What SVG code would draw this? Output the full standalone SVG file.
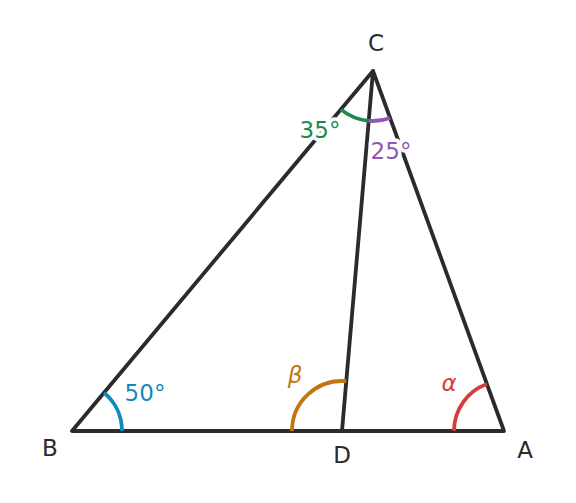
<svg xmlns="http://www.w3.org/2000/svg" width="576" height="503" viewBox="0 0 576 503">
<style>
.edge{stroke:#2b2b2b;stroke-width:3.8;fill:none;stroke-linecap:round;stroke-linejoin:round}
.arc{fill:none;stroke-width:3.8}
text{font-family:"DejaVu Sans","Liberation Sans",sans-serif;font-size:23px;text-anchor:middle}
.lbl{fill:#2b2b2b}
.halo{stroke:#ffffff;stroke-width:7;paint-order:stroke;stroke-linejoin:round}
</style>
<rect width="576" height="503" fill="#ffffff"/>
<g id="connectors">
<path class="edge" d="M72,431 L504,431 L373,71 Z"/>
<path class="edge" d="M342,431 L373,71"/>
</g>
<g id="angles">
<path class="arc" stroke="#1289bd" d="M122,431 A50,50 0 0 0 104.1,392.7"/>
<path class="arc" stroke="#c27510" d="M292,431 A50,50 0 0 1 346.3,381.2"/>
<path class="arc" stroke="#d63c3c" d="M454,431 A50,50 0 0 1 486.9,384"/>
<path class="arc" stroke="#1c8c4c" d="M340.9,109.4 A50,50 0 0 0 368.7,120.8"/>
<path class="arc" stroke="#9157b6" d="M368.7,120.8 A50,50 0 0 0 390.1,118"/>
</g>
<g id="node-C"><text class="lbl" x="376" y="51">C</text></g>
<g id="node-B"><text class="lbl" x="50" y="456">B</text></g>
<g id="node-A"><text class="lbl" x="525" y="458">A</text></g>
<g id="node-D"><text class="lbl" x="342" y="463">D</text></g>
<g id="labels">
<text class="halo" x="320" y="138" fill="#1c8c4c">35°</text>
<text class="halo" x="391" y="159" fill="#9157b6">25°</text>
<text class="halo" x="145" y="401" fill="#1289bd">50°</text>
<text class="halo" x="295" y="383" fill="#c27510" font-style="italic">β</text>
<text class="halo" x="449" y="391" fill="#d63c3c" font-style="italic">α</text>
</g>
</svg>
